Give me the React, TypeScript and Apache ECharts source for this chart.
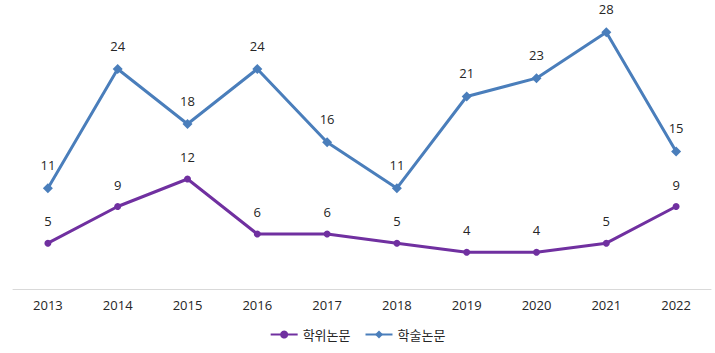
import React, { useEffect, useRef } from "react";
import * as echarts from "echarts";

const years = ["2013", "2014", "2015", "2016", "2017", "2018", "2019", "2020", "2021", "2022"];
const thesis = [5, 9, 12, 6, 6, 5, 4, 4, 5, 9];
const journal = [11, 24, 18, 24, 16, 11, 21, 23, 28, 15];

const NUM_FONT = "'Open Sans', 'Noto Sans', sans-serif";
const KR_FONT = "'Noto Sans CJK KR', 'Noto Sans', sans-serif";

export default function App() {
  const ref = useRef<HTMLDivElement>(null);
  useEffect(() => {
    document.body.style.margin = "0";
    if (!ref.current) return;
    const chart = echarts.init(ref.current, undefined, { renderer: "svg" });
    chart.setOption({
      animation: false,
      textStyle: { fontFamily: NUM_FONT },
      grid: { left: 13, right: 4, top: 14, bottom: 64, containLabel: false },
      legend: {
        top: 323,
        left: "center",
        itemWidth: 27,
        itemHeight: 10,
        itemGap: 14,
        textStyle: { fontSize: 13, color: "#262626", fontFamily: KR_FONT },
        data: ["학위논문", "학술논문"],
      },
      xAxis: {
        type: "category",
        data: years,
        boundaryGap: true,
        axisLine: { lineStyle: { color: "#d9d9d9", width: 1 } },
        axisTick: { show: false },
        axisLabel: { color: "#262626", fontSize: 13, margin: 9, fontFamily: NUM_FONT },
      },
      yAxis: {
        type: "value",
        min: 0,
        max: 30,
        show: false,
        splitLine: { show: false },
      },
      series: [
        {
          name: "학위논문",
          type: "line",
          data: thesis,
          color: "#7030a0",
          lineStyle: { width: 3, color: "#7030a0" },
          symbol: "circle",
          symbolSize: 7,
          itemStyle: { color: "#7030a0" },
          label: { show: true, position: "top", distance: 12, fontSize: 13, color: "#262626", fontFamily: NUM_FONT },
        },
        {
          name: "학술논문",
          type: "line",
          data: journal,
          color: "#4a7ebb",
          lineStyle: { width: 3, color: "#4a7ebb" },
          symbol: "diamond",
          symbolSize: 10,
          itemStyle: { color: "#4a7ebb" },
          label: { show: true, position: "top", distance: 12, fontSize: 13, color: "#262626", fontFamily: NUM_FONT },
        },
      ],
    });
    return () => chart.dispose();
  }, []);
  return <div ref={ref} style={{ width: 715, height: 353 }} />;
}
